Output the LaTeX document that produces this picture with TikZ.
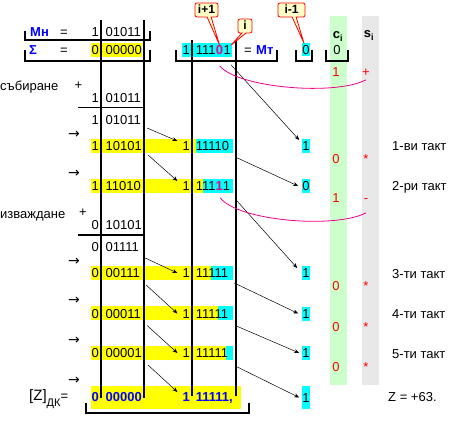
\documentclass[tikz,border=0pt]{standalone}
\usepackage{fontspec}
\setmainfont{Liberation Sans}
\newfontfamily\symfont{DejaVu Sans}
\usetikzlibrary{positioning,arrows.meta,shapes.callouts}
\definecolor{hlYellow}{HTML}{FFFF00}
\definecolor{hlCyan}{HTML}{00FFFF}
\definecolor{colGreen}{HTML}{CCFFCC}
\definecolor{colGray}{HTML}{E8E8E8}
\definecolor{noteFill}{HTML}{FFFFC8}
\definecolor{regBlue}{HTML}{0000FF}

\begin{document}
\begin{tikzpicture}[x=1pt, y=-1pt,
  txt/.style={inner sep=0pt, text height=9.3pt, text depth=0pt, font=\fontsize{13}{15}\selectfont},
  num/.style={txt, anchor=west},
  sgn/.style={txt, anchor=east},
  goStyle/.style={txt, font=\fontsize{14}{15}\selectfont\symfont},
  bitStyle/.style={txt, fill=hlCyan, minimum height=14pt},
  redStyle/.style={txt, text=red},
  regName/.style={txt, anchor=west, text=regBlue, font=\fontsize{13}{15}\selectfont\bfseries},
  resStyle/.style={text=regBlue, font=\fontsize{13}{15}\selectfont\bfseries},
  magStyle/.style={text=magenta, font=\fontsize{13}{15}\selectfont\bfseries},
  ruleStyle/.style={line width=1.1pt},
  shiftStyle/.style={line width=0.5pt, -{Stealth[length=5pt,width=4pt]}},
  loopStyle/.style={magenta, line width=0.8pt},
  noteStyle/.style={rectangle callout, draw=red, fill=noteFill, line width=0.8pt, rounded corners=2pt,
    inner sep=0pt, minimum height=14pt, text height=8pt, text depth=0pt,
    font=\fontsize{12}{14}\selectfont\bfseries, callout pointer width=4pt}
]
\useasboundingbox (0,0) rectangle (454,427);

% c_i / s_i columns
\fill[colGreen] (330,16) rectangle (347,385);
\fill[colGray]  (362,16) rectangle (379,385);

% highlighted bits
\fill[hlYellow] (91,43) rectangle (100,57);
\fill[hlYellow] (102,43) rectangle (142,57);
\fill[hlCyan]   (182,43) rectangle (232,57);
\fill[hlYellow] (91,139) rectangle (196,153);
\fill[hlCyan]   (196,139) rectangle (233,153);
\fill[hlYellow] (91,179) rectangle (203,193);
\fill[hlCyan]   (203,179) rectangle (233,193);
\fill[hlYellow] (91,266) rectangle (211,280);
\fill[hlCyan]   (211,266) rectangle (233,280);
\fill[hlYellow] (91,306) rectangle (218,320);
\fill[hlCyan]   (218,306) rectangle (233,320);
\fill[hlYellow] (91,346) rectangle (226,360);
\fill[hlCyan]   (226,346) rectangle (233,360);
\fill[hlYellow] (91,386) rectangle (241,409);

% rules and brackets
\draw[ruleStyle] (101,20) -- (101,398);
\draw[ruleStyle] (144,20) -- (144,398);
\draw[ruleStyle] (192,40) -- (192,396);
\draw[ruleStyle] (236,40) -- (236,396);
\draw[ruleStyle] (78,107.5) -- (144,107.5);
\draw[ruleStyle] (78,235) -- (144,235);
\draw[ruleStyle] (25,31) |- (150,40) -- (150,31);
\draw[ruleStyle] (25,50) |- (150,61) -- (150,50);
\draw[ruleStyle] (176,50) |- (277,61) -- (277,50);
\draw[ruleStyle] (296,50) |- (312,61) -- (312,50);
\draw[ruleStyle] (326,50) |- (348,61) -- (348,50);
\draw[ruleStyle] (86,403) |- (249,413) -- (249,403);

% registers
\node[regName] (mn) at (30,32) {Мн};
\node[txt] (eqA) at (64,32) {=};
\node[sgn] (mnS) at (99,32) {1};
\node[num] (mnD) at (105.5,32) {01011};
\node[regName] (sg) at (29,50) {Σ};
\node[txt] (eqB) at (64,50) {=};
\node[sgn] (sgS) at (99,50) {0};
\node[num] (sgD) at (105.5,50) {00000};

\node[sgn] (mt0) at (190,50) {1};
\node[num] (mtA) at (195.6,50) {111};
\node[txt, magStyle, right=0pt of mtA] (mtB) {0};
\node[txt, right=0pt of mtB] (mtC) {1};
\node[txt] (eqC) at (248,50) {=};
\node[regName] (mt) at (256,50) {Мт};
\node[bitStyle, minimum height=13pt] (cz) at (306,50) {0};

\node[txt, font=\fontsize{13}{15}\selectfont\bfseries] (ci) at (338,34) {c\textsubscript{i}};
\node[txt, font=\fontsize{13}{15}\selectfont\bfseries] (si) at (369,33) {s\textsubscript{i}};
\node[txt] (c0) at (337,50) {0};

% addition
\node[num] (add) at (0,86) {събиране};
\node[txt] (addP) at (78.5,85) {+};
\node[sgn] (adS) at (99,98) {1};
\node[num] (adD) at (105.5,98) {01011};
\node[sgn] (r0s) at (99,120) {1};
\node[num] (r0d) at (105.5,120) {01011};

\node[goStyle] (go1) at (74,134) {→};
\node[sgn] (r1s) at (99,146) {1};
\node[num] (r1d) at (105.5,146) {10101};
\node[sgn] (r1q) at (190,146) {1};
\node[num] (r1m) at (195.6,146) {11110};
\node[bitStyle] (r1b) at (306,146) {1};

\node[goStyle] (go2) at (74,173) {→};
\node[sgn] (r2s) at (99,186) {1};
\node[num] (r2d) at (105.5,186) {11010};
\node[sgn] (r2q) at (190,186) {1};
\node[num] (r2m) at (195.6,186) {111{\bfseries\color{magenta}1}1};
\node[bitStyle] (r2b) at (306,186) {0};

% subtraction
\node[num] (sub) at (0,214) {изваждане};
\node[txt] (subP) at (83,212) {+};
\node[sgn] (sbS) at (99,225) {0};
\node[num] (sbD) at (105.5,225) {10101};
\node[sgn] (u0s) at (99,247) {0};
\node[num] (u0d) at (105.5,247) {01111};

\node[goStyle] (go3) at (74,261) {→};
\node[sgn] (r3s) at (99,273) {0};
\node[num] (r3d) at (105.5,273) {00111};
\node[sgn] (r3q) at (190,273) {1};
\node[num] (r3m) at (195.6,273) {11111};
\node[bitStyle] (r3b) at (306,273) {1};

\node[goStyle] (go4) at (74,300) {→};
\node[sgn] (r4s) at (99,313.5) {0};
\node[num] (r4d) at (105.5,313.5) {00011};
\node[sgn] (r4q) at (190,313.5) {1};
\node[num] (r4m) at (195.6,313.5) {11111};
\node[bitStyle] (r4b) at (306,313.5) {1};

\node[goStyle] (go5) at (74,340) {→};
\node[sgn] (r5s) at (99,353) {0};
\node[num] (r5d) at (105.5,353) {00001};
\node[sgn] (r5q) at (190,353) {1};
\node[num] (r5m) at (195.6,353) {11111};
\node[bitStyle] (r5b) at (306,353) {1};

\node[goStyle] (go6) at (74,380) {→};
\node[sgn, resStyle] (rzs) at (99,397) {0};
\node[num, resStyle] (rzd) at (105.5,397) {00000};
\node[sgn, resStyle] (rzq) at (190,397) {1};
\node[num, resStyle] (rzm) at (195.6,397) {11111,};
\node[bitStyle, minimum height=23pt] (rzb) at (306,397.5) {1};
\node[num] (zdk) at (29,396) {{\fontsize{15}{15}\selectfont[Z]}\raisebox{-6pt}{\fontsize{11}{11}\selectfont ДК}=};

% carries and signs
\node[redStyle] (c1) at (336,72) {1};
\node[redStyle] (s1) at (366,72) {+};
\node[redStyle] (c2) at (336,159) {0};
\node[redStyle] (s2) at (366,159) {*};
\node[redStyle] (c3) at (336,198) {1};
\node[redStyle] (s3) at (366,198) {-};
\node[redStyle] (c4) at (336,286) {0};
\node[redStyle] (s4) at (366,286) {*};
\node[redStyle] (c5) at (336,327) {0};
\node[redStyle] (s5) at (366,327) {*};
\node[redStyle] (c6) at (336,367) {0};
\node[redStyle] (s6) at (366,367) {*};

\node[num] (tact1) at (392,146) {1-ви такт};
\node[num] (tact2) at (392,186) {2-ри такт};
\node[num] (tact3) at (392,274) {3-ти такт};
\node[num] (tact4) at (392,314) {4-ти такт};
\node[num] (tact5) at (392,354) {5-ти такт};
\node[num] (zres) at (388,397) {Z = +63.};

% shifts
\draw[shiftStyle] ([xshift=6pt,yshift=-8pt]r0d.east) -- ([xshift=-5pt,yshift=5pt]r1q.west);
\draw[shiftStyle] ([xshift=6pt,yshift=-9pt]r1d.east) -- ([xshift=-5pt,yshift=5pt]r2q.west);
\draw[shiftStyle] ([xshift=6pt,yshift=-11pt]u0d.east) -- ([xshift=-5pt]r3q.west);
\draw[shiftStyle] ([xshift=6pt,yshift=-12pt]r3d.east) -- ([xshift=-5pt]r4q.west);
\draw[shiftStyle] ([xshift=6pt,yshift=-12pt]r4d.east) -- ([xshift=-5pt]r5q.west);
\draw[shiftStyle] ([xshift=6pt,yshift=-12pt]r5d.east) -- ([xshift=-5pt,yshift=5pt]rzq.west);

\draw[shiftStyle] ([yshift=-10pt]mtC.south east) -- ([xshift=-3pt,yshift=6pt]r1b.west);
\draw[shiftStyle] ([xshift=6pt,yshift=-11pt]r1m.east) -- ([xshift=-4pt]r2b.west);
\draw[shiftStyle] ([xshift=5pt,yshift=-13pt]r2m.east) -- ([xshift=-5pt,yshift=5pt]r3b.west);
\draw[shiftStyle] ([xshift=6pt,yshift=-10pt]r3m.east) -- ([xshift=-4pt]r4b.west);
\draw[shiftStyle] ([xshift=7pt,yshift=-12pt]r4m.east) -- ([xshift=-3pt]r5b.west);
\draw[shiftStyle] ([xshift=7pt,yshift=-13pt]r5m.east) -- ([xshift=-3pt]rzb.west);

% sign loops
\draw[loopStyle] ([yshift=-11pt]mtB.south) .. controls (238,88) and (335,96) .. ([yshift=-3pt]s1.south);
\draw[loopStyle] ([xshift=-10pt,yshift=-7pt]r2m.south east) .. controls (238,221) and (335,229) .. ([yshift=-10pt]s3.south);

% bit pointers
\node[noteStyle, minimum width=23pt, callout absolute pointer={(mtB.north)}] (nPlus) at (206.5,10) {i+1};
\node[noteStyle, minimum width=14pt, callout absolute pointer={(mtC.north east)}] (nI) at (245,26) {i};
\node[noteStyle, minimum width=27pt, callout absolute pointer={([xshift=-2pt]cz.north)}] (nMinus) at (291.5,10) {i-1};
\end{tikzpicture}
\end{document}
